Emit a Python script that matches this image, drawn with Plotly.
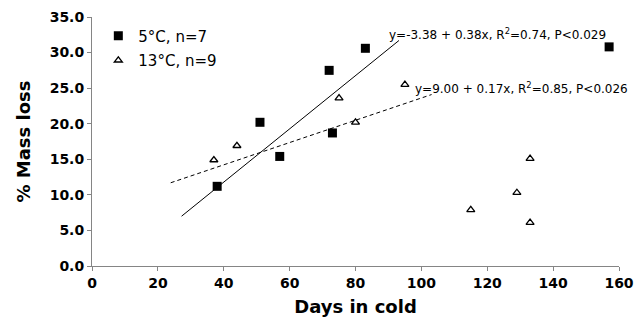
import plotly.graph_objects as go

# 5°C data
days_5 = [38, 51, 57, 72, 73, 83, 157]
loss_5 = [11.2, 20.2, 15.4, 27.5, 18.7, 30.6, 30.8]
# 13°C data
days_13 = [37, 44, 75, 80, 95, 115, 129, 133, 133]
loss_13 = [14.9, 16.9, 23.6, 20.2, 25.5, 7.9, 10.3, 15.1, 6.1]

# fitted regression lines (as drawn)
fit5_x = [27.2, 93.2]
fit5_y = [7.0, 31.7]
fit13_x = [23.9, 103.1]
fit13_y = [11.7, 24.1]

eq5 = "y=-3.38 + 0.38x, R<sup>2</sup>=0.74, P<0.029"
eq13 = "y=9.00 + 0.17x, R<sup>2</sup>=0.85, P<0.026"

x_ticks = [0, 20, 40, 60, 80, 100, 120, 140, 160]
y_ticks = [0, 5, 10, 15, 20, 25, 30, 35]

FONT = "DejaVu Sans"

fig = go.Figure()
fig.add_trace(go.Scatter(x=fit5_x, y=fit5_y, mode="lines",
                         line=dict(color="black", width=1), showlegend=False,
                         hoverinfo="skip"))
fig.add_trace(go.Scatter(x=fit13_x, y=fit13_y, mode="lines",
                         line=dict(color="black", width=1, dash="4px,3px"),
                         showlegend=False, hoverinfo="skip"))
fig.add_trace(go.Scatter(x=days_5, y=loss_5, mode="markers", name="5°C, n=7",
                         legendgroup="a",
                         marker=dict(symbol="square", size=9, color="black")))
fig.add_trace(go.Scatter(x=days_13, y=loss_13, mode="markers", name="13°C, n=9",
                         legendgroup="b",
                         marker=dict(symbol="triangle-up-open", size=7, color="black",
                                     line=dict(width=1.3, color="black"))))

fig.add_annotation(x=fit5_x[1], y=fit5_y[1], text=eq5, showarrow=False,
                   xanchor="left", yanchor="middle", xshift=-12, yshift=6,
                   font=dict(family=FONT, size=12, color="black"))
fig.add_annotation(x=fit13_x[1], y=fit13_y[1], text=eq13, showarrow=False,
                   xanchor="left", yanchor="middle", xshift=-19, yshift=7,
                   font=dict(family=FONT, size=12, color="black"))

axis_common = dict(showgrid=False, zeroline=False, showline=True, automargin=False,
                   linecolor="#858585", linewidth=1, ticks="outside",
                   ticklen=4, tickcolor="#858585",
                   tickfont=dict(family=FONT, size=14, color="black", weight="bold"))

fig.update_xaxes(range=[0, 160], tickvals=x_ticks,
                 title=dict(text="Days in cold", standoff=10,
                            font=dict(family=FONT, size=18, color="black", weight="bold")),
                 **axis_common)
fig.update_yaxes(range=[0, 35], tickvals=y_ticks, tickformat=".1f",
                 title=dict(text="% Mass loss", standoff=14,
                            font=dict(family=FONT, size=18, color="black", weight="bold")),
                 **axis_common)

# the page body adds an 8px offset, so the figure is sized to fit the window
fig.update_layout(
    width=636, height=316,
    margin=dict(l=84, r=25, t=9, b=58),
    plot_bgcolor="white", paper_bgcolor="white",
    font=dict(family=FONT, color="black"),
    legend=dict(x=0.012, y=0.99, xanchor="left", yanchor="top",
                bgcolor="rgba(0,0,0,0)", font=dict(family=FONT, size=15),
                itemwidth=30, traceorder="grouped", tracegroupgap=2),
)

fig.write_html("out.html")
